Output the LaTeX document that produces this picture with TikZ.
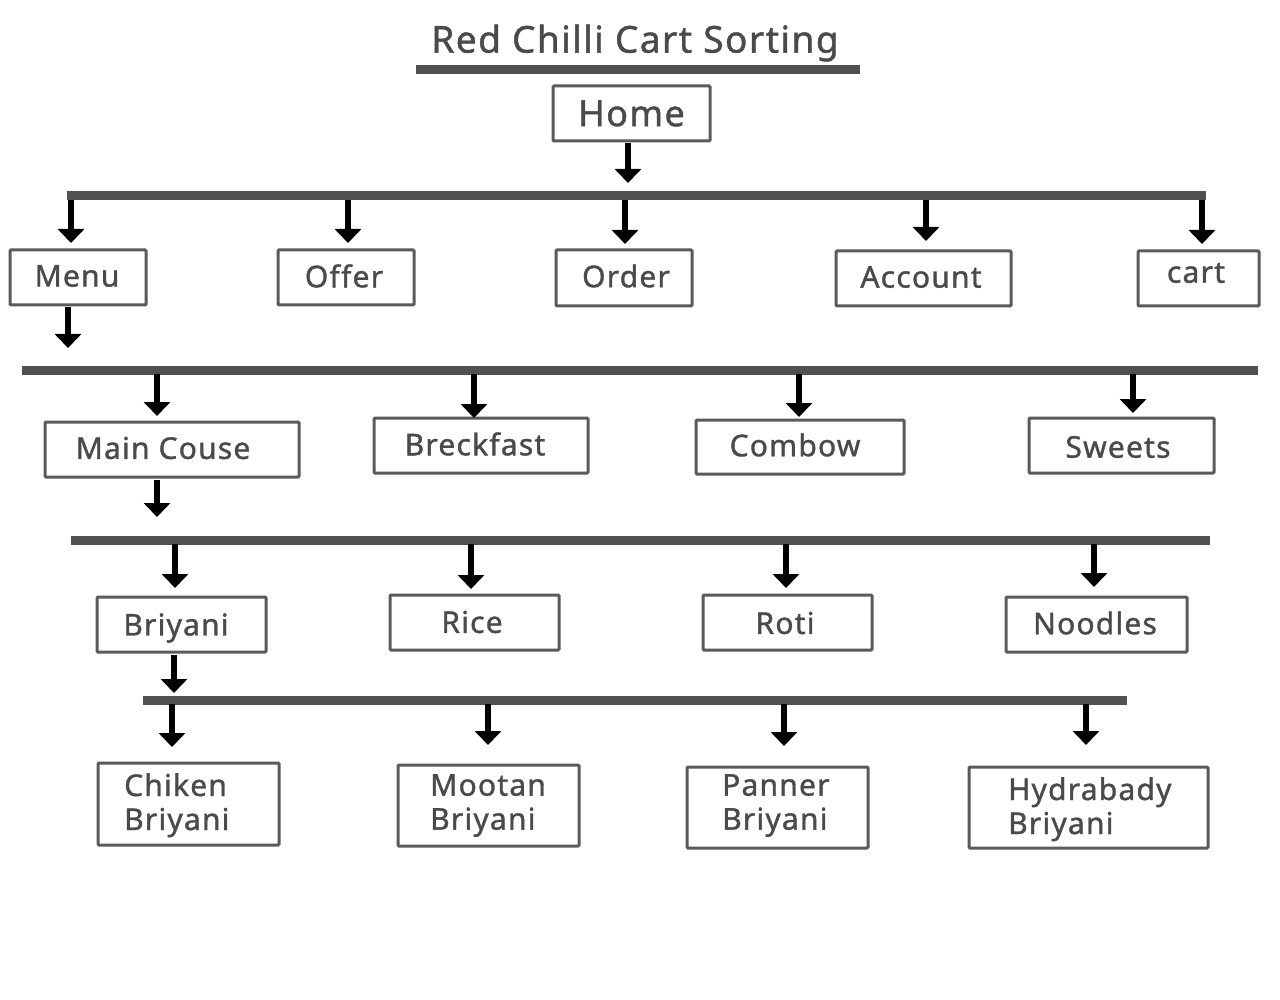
\documentclass[tikz,border=0pt]{standalone}
\usepackage{fontspec}
\setmainfont{Noto Sans}[LetterSpace=4,FakeBold=1.2,Ligatures=NoCommon]
\usetikzlibrary{arrows.meta}
\definecolor{txt}{HTML}{4A4A4A}
\definecolor{barc}{HTML}{505150}
\definecolor{boxc}{HTML}{5A5A5A}
\tikzset{
  box/.style={draw=boxc, line width=3pt, rounded corners=1pt, text=txt, inner sep=0pt, font=\fontsize{30}{34}\selectfont},
  bigbox/.style={box, font=\fontsize{36}{40}\selectfont},
  lbl/.style={text=txt, inner sep=0pt, font=\fontsize{30}{34}\selectfont},
  txtonly/.style={lbl, align=left, anchor=north west},
  bar/.style={draw=barc, line width=9pt},
  arr/.style={draw=black, line width=6pt, -{Triangle[width=26pt,length=14pt]}},
}
\begin{document}
\begin{tikzpicture}[x=1pt,y=-1pt]
\useasboundingbox[fill=white] (0,0) rectangle (1280,1000);
% title
\node[text=txt, font=\fontsize{37}{40}\selectfont] (title) at (635,43) {Red Chilli Cart Sorting};
\draw[bar] (416,70) -- (860,70);
% home
\node[bigbox, minimum width=157pt, minimum height=55pt] (home) at (631.5,113.5) {Home};
% bars
\coordinate (b1l) at (67,196); \coordinate (b1r) at (1206,196);
\coordinate (b2l) at (22,370); \coordinate (b2r) at (1258,370);
\coordinate (b3l) at (71,540); \coordinate (b3r) at (1210,540);
\coordinate (b4l) at (143,700); \coordinate (b4r) at (1127,700);
\draw[bar] (b1l) -- (b1r);
\draw[bar] (b2l) -- (b2r);
\draw[bar] (b3l) -- (b3r);
\draw[bar] (b4l) -- (b4r);
% level 1 boxes
\node[box, minimum width=136pt, minimum height=55pt] (menu) at (78,277.5) {};
\node[lbl] (menut) at (77,276) {Menu};
\node[box, minimum width=136pt, minimum height=55pt] (offer) at (346,277.5) {};
\node[lbl] (offert) at (344,276) {Offer};
\node[box, minimum width=136pt, minimum height=56pt] (order) at (624,278) {};
\node[lbl] (ordert) at (626,276) {Order};
\node[box, minimum width=175pt, minimum height=55pt] (account) at (923.5,278.5) {};
\node[lbl] (accountt) at (921,277) {Account};
\node[box, minimum width=121pt, minimum height=55pt] (cart) at (1198.5,278.5) {};
\node[lbl] (cartt) at (1196,273) {cart};
% level 2 boxes
\node[box, minimum width=254pt, minimum height=55pt] (main) at (172,449.5) {};
\node[lbl] (maint) at (163,448) {Main Couse};
\node[box, minimum width=214pt, minimum height=55pt] (break) at (481,445.5) {};
\node[lbl] (breakt) at (475,444) {Breckfast};
\node[box, minimum width=208pt, minimum height=54pt] (combo) at (800,447) {};
\node[lbl] (combot) at (795,445) {Combow};
\node[box, minimum width=185pt, minimum height=55pt] (sweets) at (1121.5,445.5) {};
\node[lbl] (sweetst) at (1118,447) {Sweets};
% level 3 boxes
\node[box, minimum width=169pt, minimum height=55pt] (bri) at (181.5,624.5) {};
\node[lbl] (brit) at (176,628) {Briyani};
\node[box, minimum width=169pt, minimum height=55pt] (rice) at (474.5,622.5) {};
\node[lbl] (ricet) at (472,622) {Rice};
\node[box, minimum width=169pt, minimum height=55pt] (roti) at (787.5,622.5) {};
\node[lbl] (rotit) at (785,623) {Roti};
\node[box, minimum width=181pt, minimum height=55pt] (noodles) at (1096.5,624.5) {};
\node[lbl] (noodlest) at (1095,623) {Noodles};
% level 4 boxes
\node[box, minimum width=181pt, minimum height=82pt] (chik) at (188.5,804) {};
\node[txtonly] (chikt) at (124,773) {Chiken\\Briyani};
\node[box, minimum width=181pt, minimum height=81pt] (moot) at (488.5,805.5) {};
\node[txtonly] (moott) at (430,774) {Mootan\\Briyani};
\node[box, minimum width=181pt, minimum height=81pt] (pann) at (777.5,807.5) {};
\node[txtonly] (pannt) at (722,774) {Panner\\Briyani};
\node[box, minimum width=239pt, minimum height=81pt] (hyd) at (1088.5,807.5) {};
\node[txtonly] (hydt) at (1008,777) {Hydrabady\\Briyani};
% arrows
\draw[arr] (home.south -| 628,0) ++(0,1) -- (628,183);
\draw[arr] (71,200) -- (71,243);
\draw[arr] (348,200) -- (348,243);
\draw[arr] (625,200) -- (625,244);
\draw[arr] (926,200) -- (926,241);
\draw[arr] (1202,200) -- (1202,244);
\draw[arr] (menu.south -| 68,0) ++(0,1) -- (68,348);
\draw[arr] (157,374) -- (157,416);
\draw[arr] (474,374) -- (474,418);
\draw[arr] (799,374) -- (799,417);
\draw[arr] (1133,374) -- (1133,413);
\draw[arr] (main.south -| 157,0) ++(0,1) -- (157,517);
\draw[arr] (175,544) -- (175,588);
\draw[arr] (471,544) -- (471,589);
\draw[arr] (786,544) -- (786,588);
\draw[arr] (1094,544) -- (1094,587);
\draw[arr] (bri.south -| 174,0) ++(0,1) -- (174,693);
\draw[arr] (172,704) -- (172,747);
\draw[arr] (488,704) -- (488,745);
\draw[arr] (784,704) -- (784,746);
\draw[arr] (1086,704) -- (1086,745);
\end{tikzpicture}
\end{document}
